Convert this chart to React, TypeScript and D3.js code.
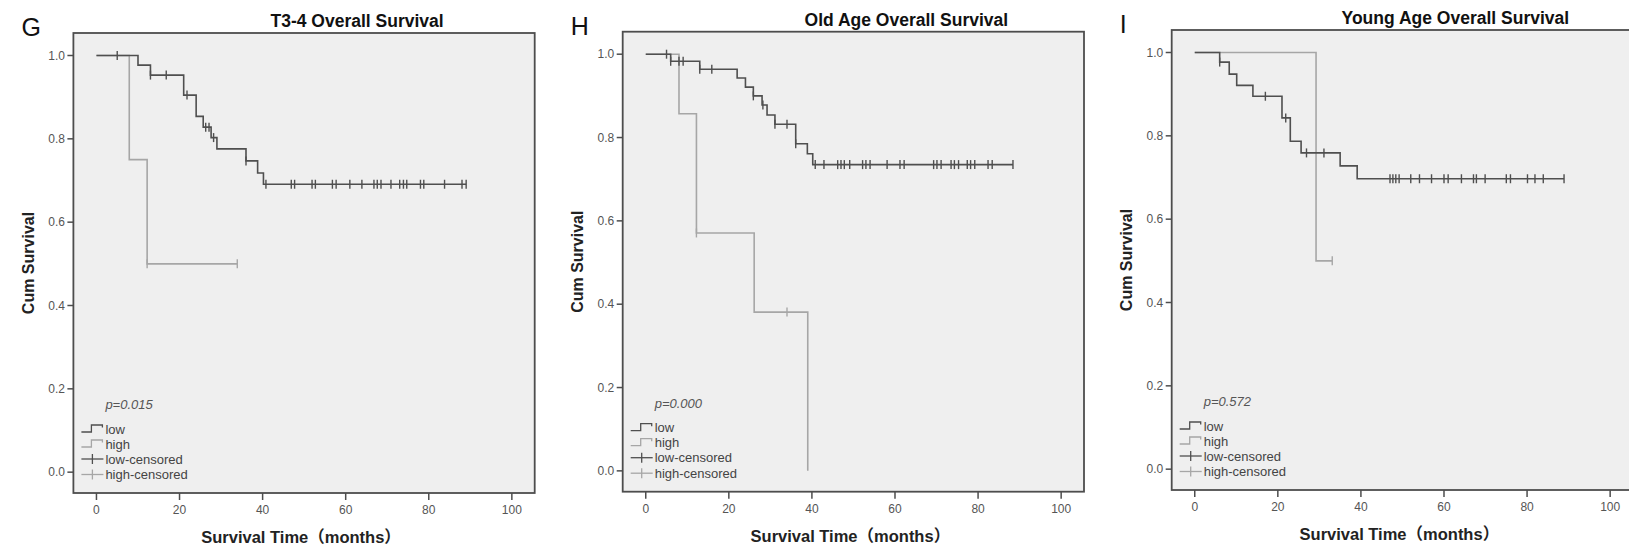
import React from 'react';
import * as d3 from 'd3';

// axis ticks
const xTicks = [0, 20, 40, 60, 80, 100];
const yTicks = [0, 0.2, 0.4, 0.6, 0.8, 1.0];
const legendLabels = ['low', 'high', 'low-censored', 'high-censored'];

// G: T3-4 overall survival
const gLowTimes = [0, 10, 13, 21, 24, 25.7, 27.6, 29, 36, 38.8, 40.2];
const gLowSurv = [1.0, 0.977, 0.953, 0.905, 0.854, 0.828, 0.803, 0.776, 0.747, 0.718, 0.691];
const gLowCensor = [5, 13, 16.8, 21.8, 26.3, 27.1, 28.2, 36, 40.8, 46.9, 47.7, 51.9, 52.7, 56.8, 57.7, 61, 63.9,
  66.8, 67.6, 68.5, 70.9, 73, 73.9, 74.7, 78, 78.8, 83.8, 88, 89];
const gHighTimes = [0, 7.9, 12.2];
const gHighSurv = [1.0, 0.75, 0.5];
const gHighCensor = [12.2, 33.9];

// H: old age overall survival
const hLowTimes = [0, 6, 13, 22, 24, 25.9, 28, 29.2, 31.1, 36.1, 38.9, 40.2];
const hLowSurv = [1.0, 0.983, 0.964, 0.943, 0.921, 0.9, 0.878, 0.854, 0.832, 0.785, 0.761, 0.735];
const hLowCensor = [5, 6, 8, 9, 13, 15.9, 25.9, 28.2, 31.1, 34, 36.1, 40.8, 42.9, 46.2, 47.0, 47.8, 49.1, 52.2,
  53.0, 54.0, 58.1, 61.2, 62.2, 69.3, 70.1, 71.1, 73.5, 74.3, 75.3, 77.4, 78.2, 79.2, 82.4, 83.4, 88.4];
const hHighTimes = [0, 8, 12.2, 26.1, 39];
const hHighSurv = [1.0, 0.857, 0.571, 0.381, 0];
const hHighCensor = [12.2, 34];

// I: young age overall survival
const iLowTimes = [0, 6, 8.3, 10.1, 14, 21, 23, 25.6, 35, 39.1];
const iLowSurv = [1.0, 0.977, 0.948, 0.921, 0.895, 0.843, 0.787, 0.759, 0.728, 0.697];
const iLowCensor = [6, 17, 21.9, 26.9, 31.1, 47.0, 47.7, 48.4, 49.2, 52.0, 54.1, 57.0, 60.0, 61.0, 64.2, 67.1,
  67.8, 69.9, 75.0, 76.0, 80.1, 81.9, 83.9, 88.9];
const iHighTimes = [0, 29.2];
const iHighSurv = [1.0, 0.5];
const iHighCensor = [33.1];

type Series = { times: number[]; surv: number[]; censor: number[] };

const panels = [
  { letter: 'G', title: 'T3-4 Overall Survival', p: 'p=0.015', left: 73.4, top: 33,
    low: { times: gLowTimes, surv: gLowSurv, censor: gLowCensor },
    high: { times: gHighTimes, surv: gHighSurv, censor: gHighCensor } },
  { letter: 'H', title: 'Old Age Overall Survival', p: 'p=0.000', left: 622.7, top: 31.7,
    low: { times: hLowTimes, surv: hLowSurv, censor: hLowCensor },
    high: { times: hHighTimes, surv: hHighSurv, censor: hHighCensor } },
  { letter: 'I', title: 'Young Age Overall Survival', p: 'p=0.572', left: 1171.7, top: 30,
    low: { times: iLowTimes, surv: iLowSurv, censor: iLowCensor },
    high: { times: iHighTimes, surv: iHighSurv, censor: iHighCensor } },
];

const W = 461.3, H = 460;
const LOW = '#4f4f4f', HIGH = '#a6a6a6';
const FONT = "'Liberation Sans', Arial, 'Noto Sans CJK SC', sans-serif";

function survAt(s: Series, t: number) {
  let v = s.surv[0];
  s.times.forEach((tt, i) => { if (tt <= t) v = s.surv[i]; });
  return v;
}

function Panel(props: any) {
  const { letter, title, p, left, top, low, high } = props;
  const x = d3.scaleLinear().domain([-5.55, 105.5]).range([left, left + W]);
  const y = d3.scaleLinear().domain([-0.05, 1.054]).range([top + H, top]);
  const line = d3.line<[number, number]>().x(d => x(d[0])).y(d => y(d[1])).curve(d3.curveStepAfter);

  const curve = (s: Series, color: string) => {
    const last = Math.max(s.times[s.times.length - 1], ...s.censor);
    const pts: [number, number][] = s.times.map((t, i) => [t, s.surv[i]] as [number, number]);
    pts.push([last, s.surv[s.surv.length - 1]]);
    return (
      <g>
        <path d={line(pts) || ''} fill="none" stroke={color} strokeWidth={1.6} />
        {s.censor.map((c, i) => (
          <line key={i} x1={x(c)} x2={x(c)} y1={y(survAt(s, c)) - 4.5} y2={y(survAt(s, c)) + 4.5}
            stroke={color} strokeWidth={1.4} />
        ))}
      </g>
    );
  };

  const bottom = top + H;
  const lx = left + 32;
  const rows = [-64, -49, -34, -18.5].map(d => bottom + d);

  return (
    <g fontFamily={FONT}>
      <text x={left - 52} y={top + 3} fontSize={25} fill="#111">{letter}</text>
      <text x={left + W / 2 + 53} y={top - 6} fontSize={17.5} fontWeight="bold" textAnchor="middle" fill="#111">{title}</text>
      <rect x={left} y={top} width={W} height={H} fill="#efefef" stroke="#4d4d4d" strokeWidth={1.8} />
      {yTicks.map(t => (
        <g key={t}>
          <line x1={left - 6} x2={left} y1={y(t)} y2={y(t)} stroke="#4d4d4d" strokeWidth={1.5} />
          <text x={left - 8.5} y={y(t)} dy="0.35em" fontSize={12} textAnchor="end" fill="#555">{t.toFixed(1)}</text>
        </g>
      ))}
      {xTicks.map(t => (
        <g key={t}>
          <line x1={x(t)} x2={x(t)} y1={bottom} y2={bottom + 7} stroke="#4d4d4d" strokeWidth={1.5} />
          <text x={x(t)} y={bottom + 21} fontSize={12} textAnchor="middle" fill="#555">{t}</text>
        </g>
      ))}
      <text x={left + W / 2 - 3} y={bottom + 50} fontSize={16.5} fontWeight="bold" textAnchor="middle" fill="#222">
        Survival Time（months）
      </text>
      <text transform={`translate(${left - 45},${top + H / 2}) rotate(-90)`} dy="0.35em" fontSize={16}
        fontWeight="bold" textAnchor="middle" fill="#222">Cum Survival</text>

      {curve(high, HIGH)}
      {curve(low, LOW)}

      <text x={lx} y={bottom - 88.5} dy="0.35em" fontSize={13} fontStyle="italic" fill="#555">{p}</text>
      {legendLabels.map((lab, i) => {
        const cy = rows[i];
        const color = i % 2 === 0 ? LOW : HIGH;
        return (
          <g key={lab}>
            {i < 2 ? (
              <path d={`M${left + 8},${cy + 3}H${left + 18}V${cy - 4}H${left + 29}V${cy - 1.5}`}
                fill="none" stroke={color} strokeWidth={1.3} />
            ) : (
              <g stroke={color} strokeWidth={1.3}>
                <line x1={left + 8} x2={left + 30} y1={cy} y2={cy} />
                <line x1={left + 19} x2={left + 19} y1={cy - 5} y2={cy + 5} />
              </g>
            )}
            <text x={lx} y={cy} dy="0.35em" fontSize={13} fill="#444">{lab}</text>
          </g>
        );
      })}
    </g>
  );
}

export default function App() {
  return (
    <div style={{ position: 'absolute', left: 0, top: 0, background: '#fff' }}>
      <svg width={1629} height={547} style={{ display: 'block' }}>
        <rect width={1629} height={547} fill="#fff" />
        {panels.map(p => <Panel key={p.letter} {...p} />)}
      </svg>
    </div>
  );
}
